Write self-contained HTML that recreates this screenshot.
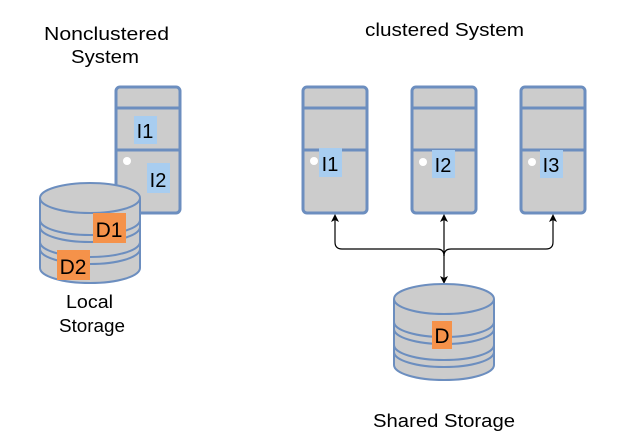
<!DOCTYPE html>
<html><head><style>body{margin:0;background:#fff}svg{display:block}text{font-family:"Liberation Sans",sans-serif}</style></head><body>
<svg width="632" height="448" viewBox="0 0 632 448" xmlns="http://www.w3.org/2000/svg">
<defs>
<g id="srv">
<rect x="0" y="0" width="64" height="126" rx="4" fill="#ccc" stroke="#6c8ebf" stroke-width="3"/>
<line x1="0" y1="21" x2="64" y2="21" stroke="#6c8ebf" stroke-width="3"/>
<line x1="0" y1="63" x2="64" y2="63" stroke="#6c8ebf" stroke-width="3"/>
</g>
<marker id="ar" markerWidth="8" markerHeight="8" refX="4" refY="4" orient="auto" markerUnits="userSpaceOnUse"><path d="M0,0 L8,4 L0,8 L2,4z" fill="#000"/></marker>
</defs>
<text x="44" y="40" font-size="18" textLength="125" lengthAdjust="spacingAndGlyphs">Nonclustered</text>
<text x="71" y="63" font-size="18" textLength="68" lengthAdjust="spacingAndGlyphs">System</text>
<text x="365" y="36" font-size="18" textLength="159" lengthAdjust="spacingAndGlyphs">clustered System</text>

<use href="#srv" x="116" y="87"/>
<rect x="134" y="116" width="23" height="28" fill="#a8cdf0"/><text x="145" y="138" font-size="20" text-anchor="middle">I1</text>
<circle cx="127" cy="161" r="4" fill="#fff"/>
<rect x="147" y="163" width="23" height="30" fill="#a8cdf0"/><text x="158" y="187" font-size="20" text-anchor="middle">I2</text>

<g fill="#ccc" stroke="#6c8ebf" stroke-width="2">
<path d="M40,198 L40,268 A50,15 0 0 0 140,268 L140,198"/>
<ellipse cx="90" cy="198" rx="50" ry="15"/>
<path d="M40,220 A50,15 0 0 0 140,220 M40,227 A50,15 0 0 0 140,227 M40,242 A50,15 0 0 0 140,242 M40,249 A50,15 0 0 0 140,249" fill="none"/>
</g>
<rect x="93" y="213" width="33" height="30" fill="#f5924a"/><text x="109" y="237" font-size="21" text-anchor="middle">D1</text>
<rect x="57" y="250" width="33" height="30" fill="#f5924a"/><text x="73" y="274" font-size="21" text-anchor="middle">D2</text>
<text x="66" y="308" font-size="18" textLength="47" lengthAdjust="spacingAndGlyphs">Local</text>
<text x="59" y="332" font-size="18" textLength="66" lengthAdjust="spacingAndGlyphs">Storage</text>

<use href="#srv" x="303" y="87"/>
<use href="#srv" x="412" y="87"/>
<use href="#srv" x="521" y="87"/>
<circle cx="314" cy="161" r="4" fill="#fff"/><rect x="319" y="148" width="23" height="29" fill="#a8cdf0"/><text x="330" y="171" font-size="20" text-anchor="middle">I1</text>
<circle cx="423" cy="162" r="4" fill="#fff"/><rect x="432" y="150" width="23" height="28" fill="#a8cdf0"/><text x="443" y="172" font-size="20" text-anchor="middle">I2</text>
<circle cx="532" cy="162" r="4" fill="#fff"/><rect x="540" y="150" width="23" height="28" fill="#a8cdf0"/><text x="551" y="172" font-size="20" text-anchor="middle">I3</text>

<g stroke="#000" stroke-width="1.2" fill="none">
<path d="M335,242 Q335,249 342,249 L437,249 Q444,249 444,256"/>
<path d="M553,242 Q553,249 546,249 L451,249 Q444,249 444,256"/>
<line x1="553" y1="242" x2="553" y2="218" marker-end="url(#ar)"/>
<line x1="335" y1="242" x2="335" y2="218" marker-end="url(#ar)"/>
<line x1="444" y1="240" x2="444" y2="218" marker-end="url(#ar)"/>
<line x1="444" y1="240" x2="444" y2="280" marker-end="url(#ar)"/>
</g>

<g fill="#ccc" stroke="#6c8ebf" stroke-width="2">
<path d="M394,299 L394,365 A50,15 0 0 0 494,365 L494,299"/>
<ellipse cx="444" cy="299" rx="50" ry="15"/>
<path d="M394,322 A50,15 0 0 0 494,322 M394,329 A50,15 0 0 0 494,329 M394,345 A50,15 0 0 0 494,345 M394,352 A50,15 0 0 0 494,352" fill="none"/>
</g>
<rect x="432" y="321" width="20" height="28" fill="#f5924a"/><text x="442" y="343" font-size="21" text-anchor="middle">D</text>
<text x="373" y="427" font-size="18" textLength="142" lengthAdjust="spacingAndGlyphs">Shared Storage</text>
</svg>
</body></html>
